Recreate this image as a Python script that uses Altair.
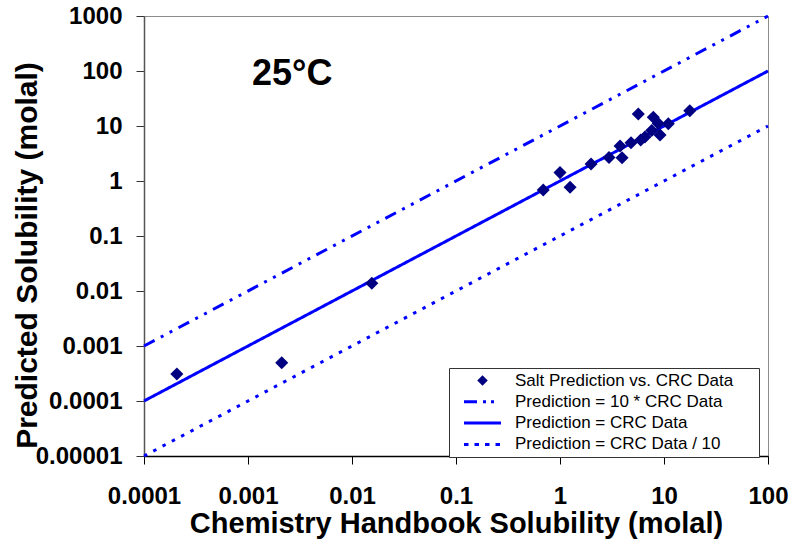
import altair as alt
import pandas as pd

# Measured solubilities (molal): handbook value vs. model prediction at 25 °C
crc_solubility = [0.000207, 0.00211, 0.0155, 0.69, 1.0, 1.25, 1.99, 2.96, 3.78, 3.95,
                  4.82, 5.66, 5.97, 6.56, 7.62, 7.89, 8.81, 9.16, 11.0, 17.7]
predicted_solubility = [0.00031, 0.000497, 0.0138, 0.685, 1.42, 0.77, 2.04, 2.67, 4.33, 2.65,
                        4.97, 16.5, 5.56, 6.3, 8.28, 14.4, 11.1, 6.86, 11.0, 19.0]

# Reference lines: prediction = factor * handbook value
line_names = ["Prediction = 10 * CRC Data", "Prediction = CRC Data", "Prediction = CRC Data / 10"]
line_factors = [10.0, 1.0, 0.1]
line_x_ends = [0.0001, 100.0]

point_name = "Salt Prediction vs. CRC Data"
series_order = [point_name] + line_names
series_colors = ["#000080", "#0000FF", "#0000FF", "#0000FF"]
line_dashes = [[12, 7, 3, 7, 3, 7], [1, 0], [3.5, 7]]

x_ticks = [0.0001, 0.001, 0.01, 0.1, 1, 10, 100]
y_ticks = [0.00001, 0.0001, 0.001, 0.01, 0.1, 1, 10, 100, 1000]

points = pd.DataFrame({"crc": crc_solubility, "pred": predicted_solubility, "series": point_name})
lines = pd.DataFrame(
    [{"crc": xe, "pred": xe * f, "series": n} for n, f in zip(line_names, line_factors) for xe in line_x_ends]
)

FONT = "Liberation Sans"

axis_common = dict(
    grid=False, labelFont=FONT, labelFontSize=24, labelFontWeight="bold", labelColor="#000000",
    titleFont=FONT, titleFontWeight="bold", titleColor="#000000",
    tickSize=8, tickWidth=1, domainWidth=1.5, labelFlush=False, labelOverlap=False,
)

x_enc = alt.X(
    "crc:Q",
    scale=alt.Scale(type="log", domain=[0.0001, 100], nice=False),
    axis=alt.Axis(
        values=x_ticks, format=".4~f", title="Chemistry Handbook Solubility (molal)",
        titleFontSize=29, titleY=76, titleBaseline="alphabetic", titleX=312,
        labelPadding=20, domainColor="#000000", tickColor="#000000", **axis_common,
    ),
)
y_enc = alt.Y(
    "pred:Q",
    scale=alt.Scale(type="log", domain=[0.00001, 1000], nice=False),
    axis=alt.Axis(
        values=y_ticks, format=".5~f", title="Predicted Solubility (molal)",
        titleFontSize=30, titleX=-108, titleY=239, titleAngle=-90,
        titleBaseline="alphabetic", titleAlign="center",
        labelPadding=14, domainColor="#555555", tickColor="#333333", **axis_common,
    ),
)

is_pt = f"datum.value === '{point_name}'"
# The legend title is kept blank (white on the white legend box); it only
# widens the box on the right-hand side.
legend = alt.Legend(
    title="xx", titleOrient="right", titleColor="white", titleFontSize=17,
    titleFont=FONT, titleFontWeight="normal", titlePadding=5,
    orient="none", legendX=305, legendY=352,
    fillColor="white", strokeColor="#333333", padding=4,
    clipHeight=17, rowPadding=3.3,
    symbolOffset=21, labelOffset=24,
    symbolType={"expr": f"{is_pt} ? 'diamond' : 'stroke'"},
    symbolSize={"expr": f"{is_pt} ? 110 : 1369"},
    symbolStrokeWidth={"expr": f"{is_pt} ? 0 : 3"},
    symbolStrokeColor="#0000FF",
    symbolFillColor={"expr": f"{is_pt} ? '#000080' : 'transparent'"},
    symbolDash={"expr": f"datum.value === '{line_names[0]}' ? [13,6,3,5,3,7] : "
                        f"datum.value === '{line_names[2]}' ? [4.5,6] : [1,0]"},
    labelFont=FONT, labelFontSize=17, labelFontWeight="normal", labelColor="#000000",
    labelLimit=0,
)
color_enc = alt.Color(
    "series:N",
    scale=alt.Scale(domain=series_order, range=series_colors),
    legend=legend,
)

line_layer = alt.Chart(lines).mark_line(strokeWidth=3, strokeCap="butt").encode(
    x=x_enc, y=y_enc, color=color_enc,
    strokeDash=alt.StrokeDash("series:N", scale=alt.Scale(domain=line_names, range=line_dashes), legend=None),
    detail="series:N",
)
point_layer = alt.Chart(points).mark_point(shape="diamond", filled=True, size=170, opacity=1).encode(
    x=x_enc, y=y_enc, color=color_enc,
)
label_layer = alt.Chart(pd.DataFrame({"t": ["25°C"]})).mark_text(
    font=FONT, fontSize=36, fontWeight="bold", align="left", baseline="alphabetic", color="#000000"
).encode(text="t:N", x=alt.value(108), y=alt.value(69))

chart = alt.layer(line_layer, point_layer, label_layer).properties(
    width=624, height=440,
    background="white",
    autosize=alt.AutoSizeParams(type="none"),
    padding={"left": 144, "top": 16, "right": 23, "bottom": 83},
).configure_view(
    stroke="#8c8c8c", strokeWidth=1
)

chart.save("out.html", embed_options={"renderer": "svg", "actions": False})
